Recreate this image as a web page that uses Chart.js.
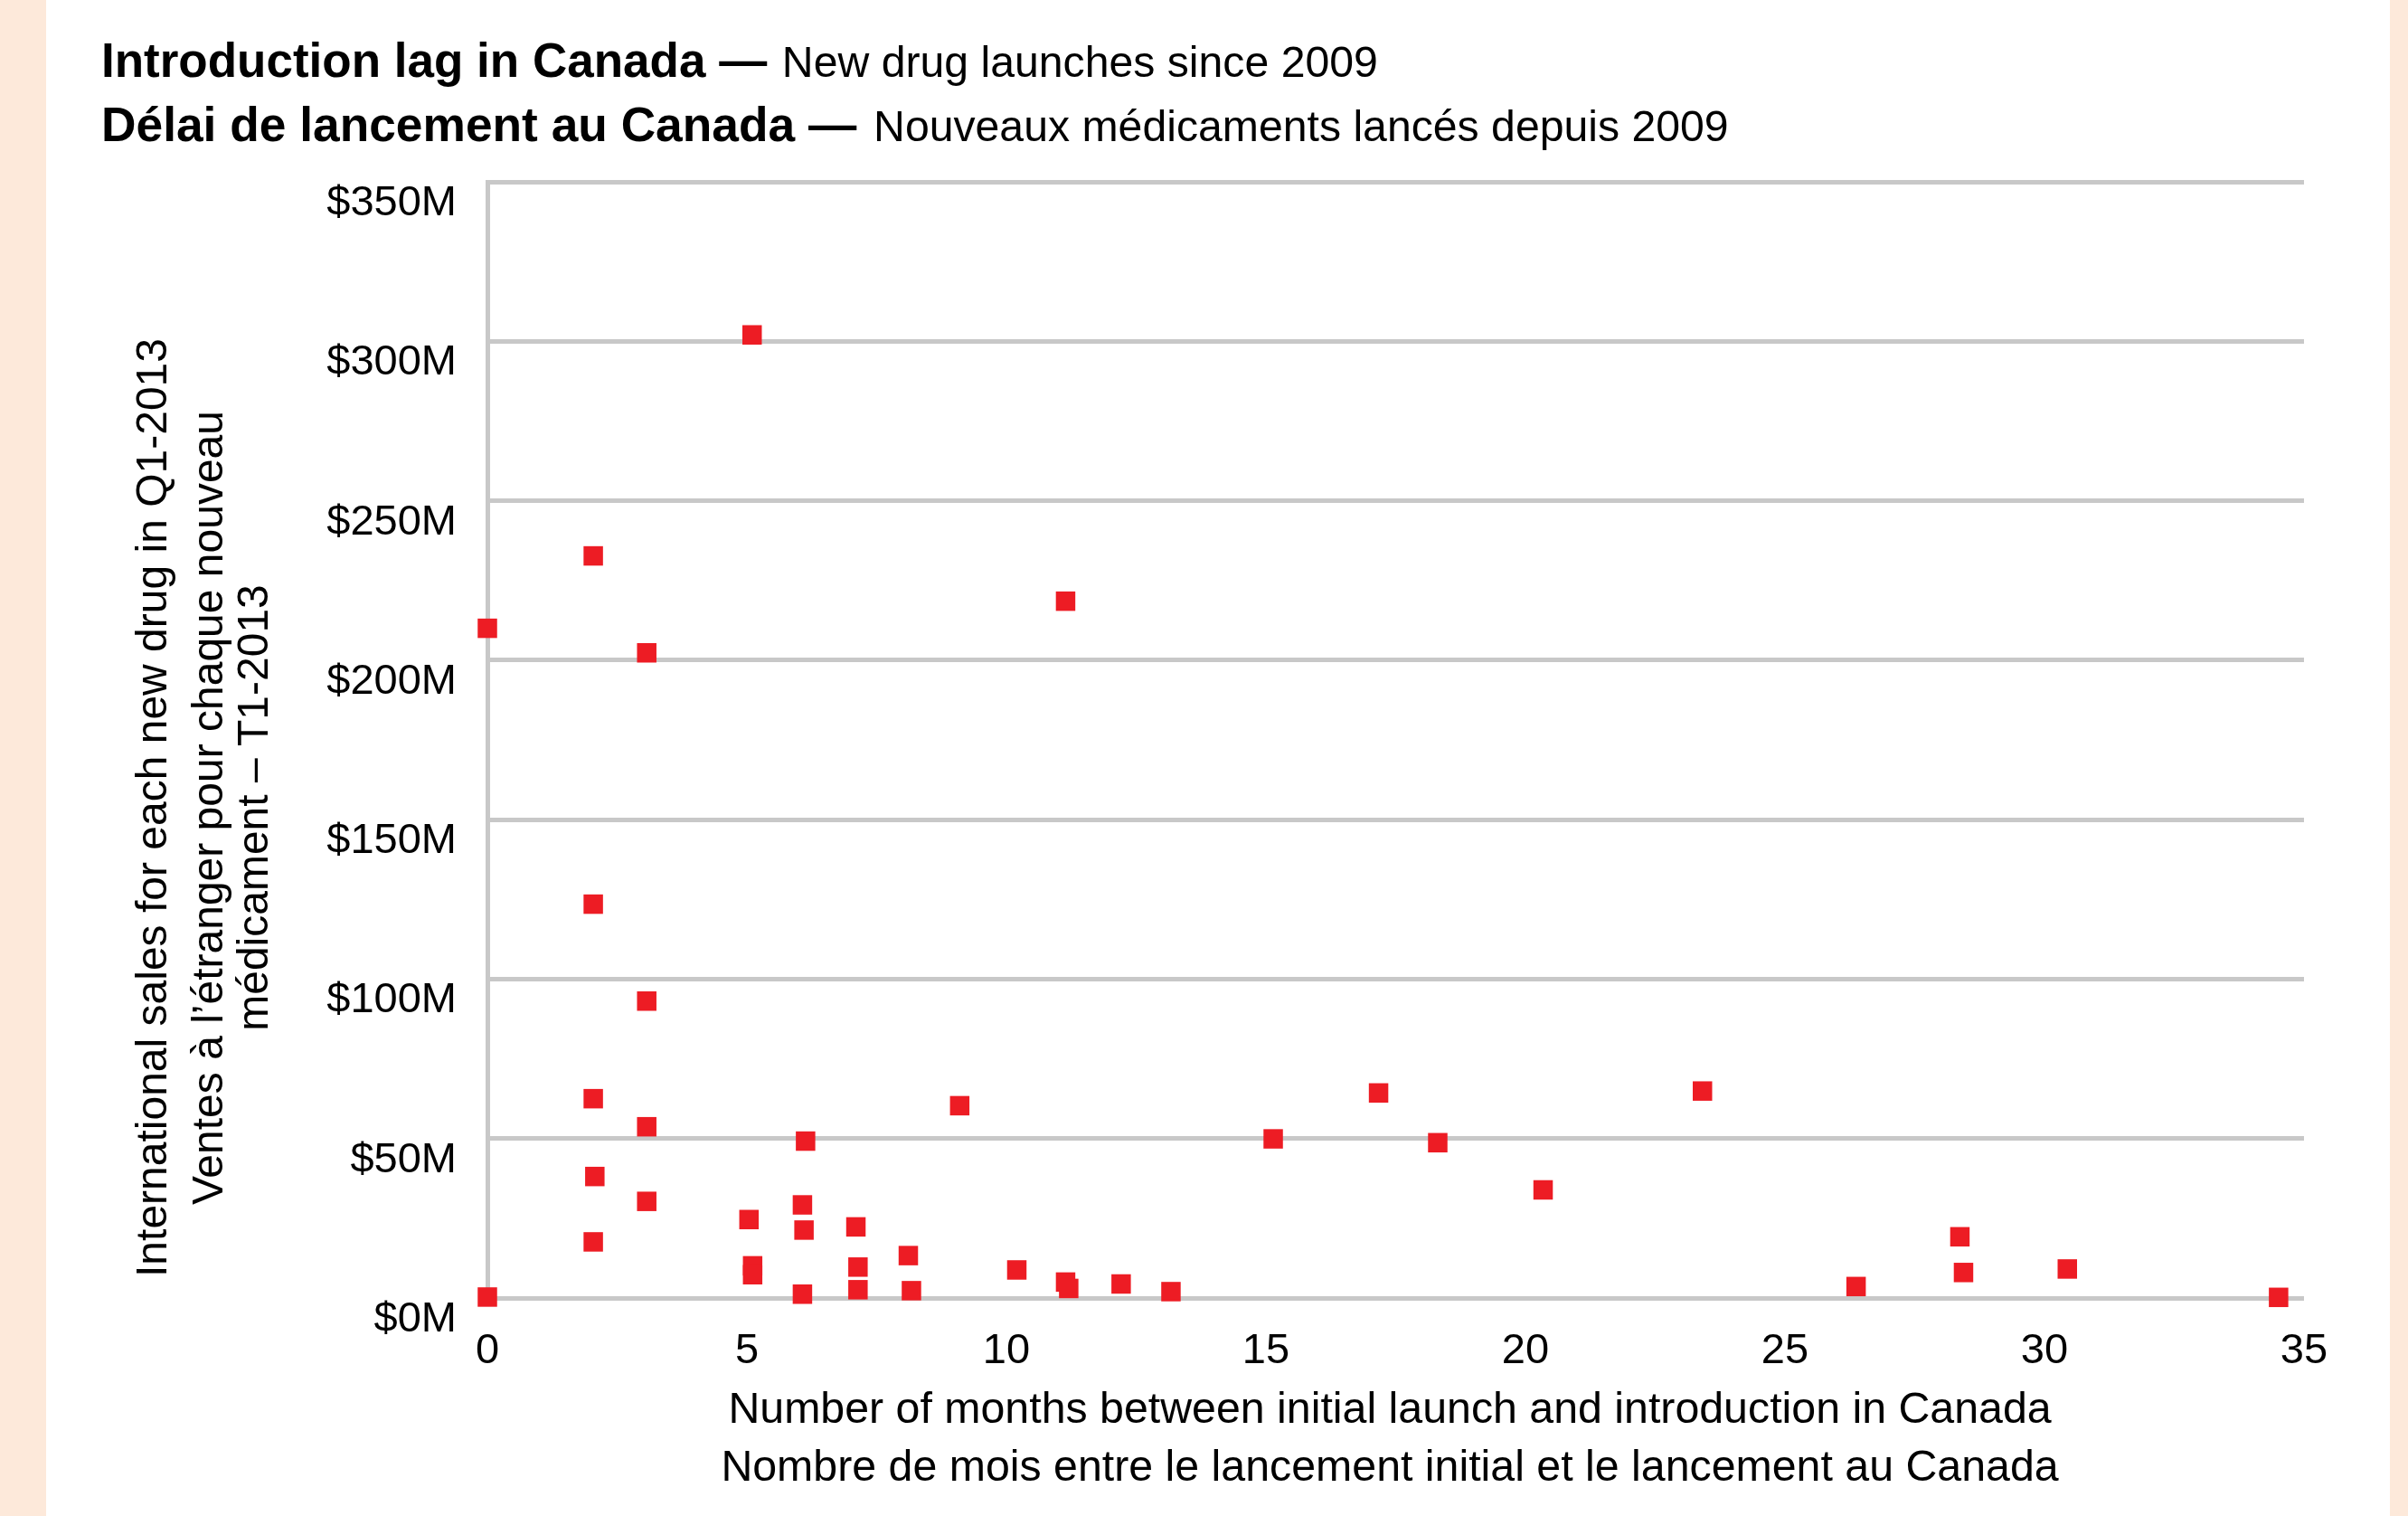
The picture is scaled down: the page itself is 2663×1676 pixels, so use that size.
<!DOCTYPE html>
<html>
<head>
<meta charset="utf-8">
<script src="https://cdn.jsdelivr.net/npm/chart.js@4.4.1/dist/chart.umd.min.js"></script>
<style>
html,body{margin:0;padding:0;background:#fff;}
body{width:2663px;height:1676px;position:relative;overflow:hidden;font-family:"Liberation Sans",Arial,Helvetica,sans-serif;}
.strip{position:absolute;top:0;height:1676px;background:#FDE9DA;}
#c{position:absolute;left:0;top:0;}
#title{position:absolute;left:112px;top:31.6px;color:#000;white-space:nowrap;z-index:2;}
#title div{line-height:70px;font-size:53px;font-weight:bold;}
#title div.l2{font-size:53.3px;}
#title span.r{font-weight:normal;font-size:48.2px;padding-left:2px;}
#title div.l2 span.r{padding-left:4px;}
</style>
</head>
<body>
<div class="strip" style="left:0;width:51px"></div>
<div class="strip" style="left:2643px;width:20px"></div>
<canvas id="c" width="2663" height="1676"></canvas>
<div id="title"></div>
<script>
// ---- Data ----
const months = [0, 2.04, 5.1, 3.07, 11.14, 2.04, 3.07, 2.04, 9.1, 3.07,
                6.13, 2.07, 3.07, 6.07, 5.04, 6.1, 7.1, 2.04, 8.11, 5.11,
                5.11, 7.14, 10.2, 11.14, 11.2, 6.07, 7.14, 8.17, 0, 12.21,
                13.17, 15.14, 17.17, 18.31, 20.34, 23.41, 26.37, 28.37, 28.44, 30.44,
                34.51];
const salesM = [210, 232.7, 302, 202.3, 218.5, 123.5, 93.1, 62.5, 60.3, 53.7,
                49.2, 38.1, 30.3, 29.2, 24.6, 21.3, 22.3, 17.6, 13.3, 10.1,
                7.3, 9.7, 8.8, 5.0, 3.0, 1.2, 2.6, 2.3, 0.3, 4.4,
                2.0, 49.9, 64.3, 48.7, 33.9, 64.9, 3.6, 19.2, 8.0, 9.1,
                0.2];
const yTickValues = [0, 50, 100, 150, 200, 250, 300, 350];
const yTickLabels = ['$0M', '$50M', '$100M', '$150M', '$200M', '$250M', '$300M', '$350M'];
const xTickValues = [0, 5, 10, 15, 20, 25, 30, 35];
const xTickLabels = ['0', '5', '10', '15', '20', '25', '30', '35'];
const titleBold = ['Introduction lag in Canada —', 'Délai de lancement au Canada —'];
const titleRegular = ['New drug launches since 2009', 'Nouveaux médicaments lancés depuis 2009'];
const xTitleLines = ['Number of months between initial launch and introduction in Canada',
                     'Nombre de mois entre le lancement initial et le lancement au Canada'];
const yTitleLines = ['International sales for each new drug in Q1-2013',
                     'Ventes à l’étranger pour chaque nouveau',
                     'médicament – T1-2013'];

// ---- Header ----
const titleEl = document.getElementById('title');
titleBold.forEach((b, i) => {
  const d = document.createElement('div');
  d.className = 'l' + (i + 1);
  d.appendChild(document.createTextNode(b + ' '));
  const s = document.createElement('span');
  s.className = 'r';
  s.textContent = titleRegular[i];
  d.appendChild(s);
  titleEl.appendChild(d);
});

// ---- Chart ----
const FONT = '"Liberation Sans", Arial, Helvetica, sans-serif';
Chart.defaults.font.family = FONT;
Chart.defaults.color = '#000';

const yTitleX = [184, 246, 296];
const yTitleCenterY = 893;
const xTitleCenterX = 1537;
const xTitleY = [1573, 1637];
const axisTitlesPlugin = {
  id: 'axisTitles',
  afterDraw(chart) {
    const c = chart.ctx;
    c.save();
    c.fillStyle = '#000';
    c.textAlign = 'center';
    c.textBaseline = 'alphabetic';
    c.font = '48px ' + FONT;
    yTitleLines.forEach((t, i) => {
      c.save();
      c.translate(yTitleX[i], yTitleCenterY);
      c.rotate(-Math.PI / 2);
      c.fillText(t, 0, 0);
      c.restore();
    });
    c.font = '48.3px ' + FONT;
    xTitleLines.forEach((t, i) => {
      c.fillText(t, xTitleCenterX, xTitleY[i]);
    });
    c.restore();
  }
};

const points = months.map((m, i) => ({ x: m, y: salesM[i] }));

new Chart(document.getElementById('c').getContext('2d'), {
  type: 'scatter',
  data: {
    datasets: [{
      data: points,
      pointStyle: 'rect',
      pointRadius: 15.2,
      pointHoverRadius: 15.2,
      backgroundColor: '#ED1C24',
      borderWidth: 0,
      clip: false
    }]
  },
  options: {
    responsive: false,
    animation: false,
    devicePixelRatio: 1,
    events: [],
    layout: { padding: { left: 0, top: 201, right: 115, bottom: 0 } },
    plugins: { legend: { display: false }, tooltip: { enabled: false }, title: { display: false } },
    scales: {
      x: {
        type: 'linear',
        position: 'bottom',
        min: 0, max: 35,
        afterBuildTicks(s) { s.ticks = xTickValues.map(v => ({ value: v })); },
        ticks: {
          padding: 36,
          maxRotation: 0,
          autoSkip: false,
          font: { size: 47, lineHeight: 1 },
          callback: (v) => xTickLabels[xTickValues.indexOf(v)]
        },
        grid: { display: false, drawTicks: false },
        border: { display: false },
        title: { display: false },
        afterFit(s) { s.height = 241; }
      },
      y: {
        type: 'linear',
        min: 0, max: 350,
        afterBuildTicks(s) { s.ticks = yTickValues.map(v => ({ value: v })); },
        ticks: {
          padding: 34,
          labelOffset: 24,
          font: { size: 47, lineHeight: 1 },
          callback: (v) => yTickLabels[yTickValues.indexOf(v)]
        },
        grid: { color: '#C8C8C8', lineWidth: 5, drawTicks: false },
        border: { display: true, color: '#C8C8C8', width: 5 },
        afterFit(s) { s.width = 539; }
      }
    }
  },
  plugins: [axisTitlesPlugin]
});
</script>
</body>
</html>
